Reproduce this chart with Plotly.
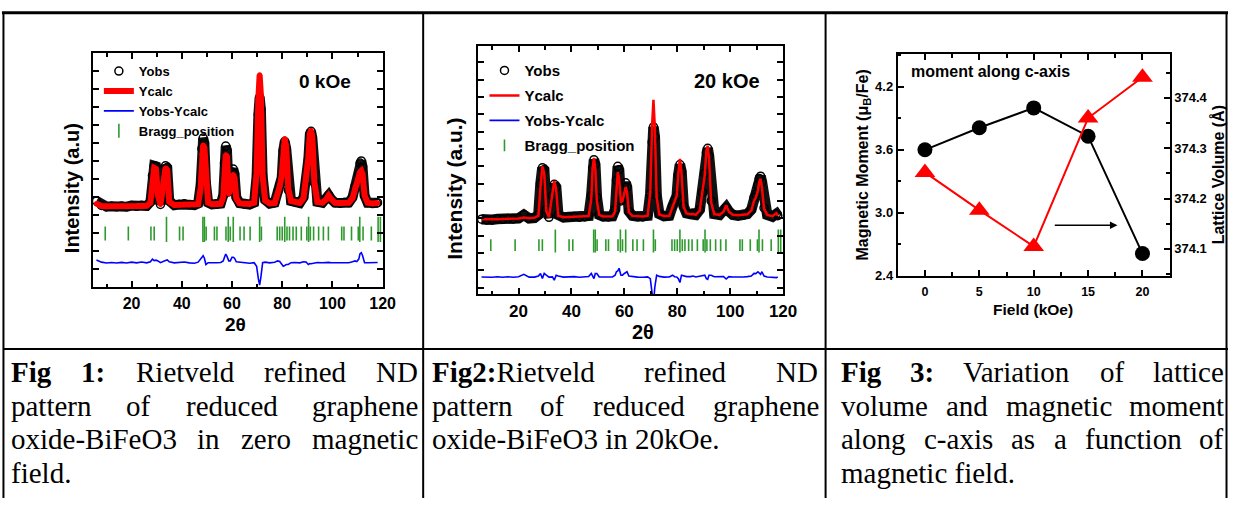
import plotly.graph_objects as go

W, H = 1242, 506
SANS = "Liberation Sans, Arial, sans-serif"
SERIF = "Liberation Serif, Times New Roman, serif"
GREEN = "#2e9a2e"

# ---------------- data ----------------
two_theta = [6, 8, 10, 12, 14, 16, 18, 20, 22, 24, 26, 27.5, 28.3, 29, 29.7, 30.5, 31.5,
             32.8, 33.5, 34.2, 35, 37, 39, 41, 43, 45, 46.5, 47.5, 48.0, 48.5, 49.0, 49.6,
             50.5, 52, 54, 55.5, 56.5, 57.0, 57.5, 58.0, 58.7, 59.3, 60.0, 60.5, 61.0, 61.7,
             63, 65, 67, 68.8, 69.8, 70.5, 71.0, 71.5, 72.2, 73.2, 75, 77, 78.2, 79.0, 79.8,
             80.4, 81.0, 81.6, 82.4, 83.5, 85, 86, 87, 88.5, 89.5, 90.4, 91.0, 91.5, 92.0,
             92.8, 94, 96, 97.5, 98.5, 99.5, 101, 103, 105, 106.5, 108, 109.0, 109.7, 110.5,
             111.0, 111.5, 112.0, 112.8, 114, 116, 117.5, 118]

yobs_0k = [4800, 4550, 4480, 4500, 4470, 4520, 4480, 4540, 4500, 4560, 4520, 4750, 6200, 6750,
           6720, 5200, 4600, 6100, 6750, 6650, 4800, 4560, 4600, 4640, 4580, 4560, 4650, 5700,
           7700, 8290, 8000, 5800, 4700, 4600, 4620, 4650, 5100, 6900, 7840, 7600, 5300, 5500,
           6400, 6570, 6300, 5000, 4680, 4620, 4600, 4700, 6200, 9600, 10560, 9900, 6200, 4850,
           4650, 4700, 5300, 5670, 6100, 7600, 8100, 7700, 5400, 4800, 4750, 4720, 4680, 5000,
           5940, 7100, 8500, 8660, 8300, 5800, 4750, 4700, 4900, 5120, 4900, 4700, 4680, 4720,
           4700, 5000, 5600, 5760, 6300, 6900, 7020, 6700, 5100, 4700, 4650, 4680, 4700]

ycalc_0k = [4650, 4520, 4500, 4490, 4490, 4500, 4500, 4510, 4510, 4520, 4530, 4700, 6000, 6630,
            6580, 5100, 4600, 6000, 6630, 6500, 4750, 4570, 4580, 4600, 4590, 4590, 4620, 5500,
            7400, 7900, 7750, 5900, 4700, 4610, 4620, 4640, 5000, 6600, 7360, 7250, 5200, 5400,
            6100, 6270, 6050, 4950, 4660, 4630, 4630, 4700, 6400, 10500, 11800, 10700, 6200, 4820,
            4660, 4680, 5200, 5600, 6200, 7800, 8260, 7800, 5500, 4800, 4740, 4700, 4690, 4950,
            5900, 7200, 8550, 8720, 8350, 5850, 4740, 4700, 4880, 5100, 4900, 4700, 4690, 4700,
            4700, 4950, 5500, 5700, 6100, 6400, 6470, 6300, 5100, 4700, 4660, 4680, 4690]

yobs_20k = [3950, 3900, 3920, 3960, 3940, 3980, 3960, 4000, 4200, 4000, 4020, 4200, 6000, 6910,
            6800, 4500, 4060, 5300, 5960, 5800, 4200, 4050, 4080, 4100, 4060, 4080, 4150, 5300,
            6900, 7380, 7100, 5200, 4200, 4100, 4080, 4120, 4500, 6200, 7000, 6800, 5000, 5100,
            5800, 6050, 5800, 4400, 4150, 4100, 4080, 4150, 5400, 8400, 9270, 8700, 5300, 4250,
            4120, 4150, 4700, 5010, 5300, 6500, 7100, 6700, 4700, 4300, 4250, 4300, 4200, 4500,
            5490, 6600, 7800, 8040, 7600, 5000, 4250, 4200, 4400, 4630, 4400, 4200, 4150, 4180,
            4250, 4500, 5200, 5390, 5900, 6300, 6430, 6100, 4600, 4200, 4100, 4260, 4150]

ycalc_20k = [3950, 3930, 3940, 3950, 3960, 3970, 3980, 3990, 4050, 4010, 4030, 4150, 5800, 7000,
             6600, 4400, 4070, 5300, 6150, 5700, 4150, 4060, 4070, 4080, 4080, 4090, 4130, 5100,
             6900, 7480, 6900, 5000, 4200, 4100, 4100, 4120, 4400, 5900, 6660, 6300, 4900, 5000,
             5600, 5810, 5500, 4350, 4140, 4110, 4100, 4150, 5500, 9400, 10830, 9300, 5200, 4220,
             4130, 4150, 4600, 5000, 5300, 6600, 7420, 6600, 4650, 4280, 4230, 4250, 4200, 4450,
             5450, 6500, 7900, 8180, 7500, 4900, 4240, 4200, 4380, 4750, 4380, 4200, 4170, 4180,
             4230, 4450, 5000, 5200, 5600, 6100, 6280, 5800, 4550, 4200, 4120, 4300, 4150]

# reflection positions (2theta), weak and strong families
bragg_weak = [9.5, 18.7, 27.7, 29.0, 39.1, 40.5, 49.7, 53.0, 54.0, 57.6, 59.3, 63.2, 64.8,
              67.2, 71.7, 78.0, 79.0, 80.0, 81.9, 82.9, 84.3, 85.6, 87.6, 89.8, 91.2, 92.5,
              94.5, 96.4, 98.4, 103.7, 104.6, 107.6, 110.3, 112.2, 115.5]
bragg_strong = [33.9, 48.4, 49.0, 58.5, 60.5, 71.0, 81.0, 90.5, 110.9, 118.2, 119.1]

field_koe = [0, 5, 10, 15, 20]
moment_c = [3.60, 3.81, 4.00, 3.73, 2.61]
lattice_volume = [374.252, 374.177, 374.105, 374.360, 374.441]

# ---------------- helpers ----------------
def px(x):
    return x / W


def py(y):
    return 1 - y / H


def bold(size, family=SANS):
    return dict(family=family, size=size, color="black", weight="bold")


def frame_axis(**kw):
    ax = dict(showline=True, linewidth=2, linecolor="black", mirror="ticks",
              ticks="inside", ticklen=6, tickwidth=1.5, tickcolor="black",
              showgrid=False, zeroline=False)
    ax.update(kw)
    return ax


def minor(dtick, length=3.5):
    return dict(ticks="inside", ticklen=length, tickwidth=1.5, tickcolor="black",
                dtick=dtick, showgrid=False)


fig = go.Figure()


def pattern(xa, ya, leg, yobs, ycalc, diff_base, weak_lvl, strong_lvl,
            weak_size, strong_size, obs_w, calc_w, calc_markers, tag):
    fig.add_trace(go.Scatter(x=two_theta, y=yobs, mode="lines",
                             line=dict(color="#111111", width=obs_w),
                             showlegend=False, legend=leg, legendgroup=tag + "o",
                             xaxis=xa, yaxis=ya, hoverinfo="skip"))
    fig.add_trace(go.Scatter(x=two_theta, y=yobs, mode="markers", name="Yobs",
                             marker=dict(symbol="circle-open", size=8, color="black",
                                         line=dict(width=1.5, color="black")),
                             legend=leg, legendgroup=tag + "o", xaxis=xa, yaxis=ya))
    fig.add_trace(go.Scatter(x=two_theta, y=ycalc,
                             mode="lines+markers" if calc_markers else "lines",
                             name="Ycalc", line=dict(color="#ff0000", width=calc_w),
                             marker=dict(size=5, color="#ff0000"),
                             legend=leg, legendgroup=tag + "c", xaxis=xa, yaxis=ya))
    diff = [o - c + diff_base for o, c in zip(yobs, ycalc)]
    fig.add_trace(go.Scatter(x=two_theta, y=diff, mode="lines", name="Yobs-Ycalc",
                             line=dict(color="#0000ff", width=1.6),
                             legend=leg, legendgroup=tag + "d", xaxis=xa, yaxis=ya))
    fig.add_trace(go.Scatter(x=bragg_weak, y=[weak_lvl] * len(bragg_weak), mode="markers",
                             name="Bragg_position",
                             marker=dict(symbol="line-ns", size=weak_size, color=GREEN,
                                         line=dict(width=1.6, color=GREEN)),
                             legend=leg, legendgroup=tag + "b", xaxis=xa, yaxis=ya))
    fig.add_trace(go.Scatter(x=bragg_strong, y=[strong_lvl] * len(bragg_strong),
                             mode="markers", showlegend=False,
                             marker=dict(symbol="line-ns", size=strong_size, color=GREEN,
                                         line=dict(width=1.6, color=GREEN)),
                             legend=leg, legendgroup=tag + "b", xaxis=xa, yaxis=ya))


# panel 1: 0 kOe
pattern("x", "y", "legend", yobs_0k, ycalc_0k, 1370, 2990, 3215, 10, 18, 10, 6, True, "p1")
# panel 2: 20 kOe
pattern("x2", "y2", "legend2", yobs_20k, ycalc_20k, 620, 2455, 2690, 8.5, 16.5, 10.5, 2.5, False, "p2")

# panel 3: moment and lattice volume vs field
fig.add_trace(go.Scatter(x=field_koe, y=moment_c, mode="lines+markers",
                         line=dict(color="black", width=2),
                         marker=dict(symbol="circle", size=15, color="black"),
                         showlegend=False, xaxis="x3", yaxis="y3"))
fig.add_trace(go.Scatter(x=field_koe, y=lattice_volume, mode="lines+markers",
                         line=dict(color="#ff0000", width=2),
                         marker=dict(symbol="triangle-up", size=18, color="#ff0000"),
                         showlegend=False, xaxis="x3", yaxis="y4"))

legend_common = dict(xanchor="left", yanchor="top", bgcolor="rgba(0,0,0,0)",
                     itemwidth=30, traceorder="grouped")

fig.update_layout(
    width=W, height=H, margin=dict(l=0, r=0, t=0, b=0),
    paper_bgcolor="white", plot_bgcolor="white", showlegend=True,
    legend=dict(x=px(100), y=py(57), font=bold(13), tracegroupgap=0, **legend_common),
    legend2=dict(x=px(490), y=py(55), font=bold(15), tracegroupgap=2.5, **legend_common),
    xaxis=frame_axis(domain=[px(94), px(387)], range=[4.6, 120], anchor="y",
                     tick0=0, dtick=20, minor=minor(10), tickfont=bold(16)),
    yaxis=frame_axis(domain=[py(292), py(54)], range=[0, 13000], anchor="x",
                     tick0=0, dtick=1000, showticklabels=False),
    xaxis2=frame_axis(domain=[px(483), px(792)], range=[4.5, 120], anchor="y2",
                      tick0=0, dtick=20, minor=minor(10), tickfont=bold(17)),
    yaxis2=frame_axis(domain=[py(299), py(47)], range=[-380, 13920], anchor="x2",
                      tick0=0, dtick=1000, showticklabels=False),
    xaxis3=frame_axis(domain=[px(908), px(1183)], range=[-2.5, 22.5], anchor="y3",
                      tick0=0, dtick=5, minor=minor(2.5), tickfont=bold(12.5),
                      ticklabelstandoff=3),
    yaxis3=frame_axis(domain=[py(280), py(55)], range=[2.4, 4.513], anchor="x3",
                      mirror=False, tick0=2.4, dtick=0.6, tickformat=".1f",
                      minor=minor(0.3), tickfont=bold(13)),
    yaxis4=frame_axis(domain=[py(280), py(55)], range=[374.047, 374.487], anchor="x3",
                      overlaying="y3", side="right", mirror=False, tick0=374.0,
                      dtick=0.1, tickformat=".1f", minor=minor(0.05),
                      tickfont=bold(13)),
)

ann = []


def label(x, y, text, size, angle=0, xanchor="center", family=SANS, weight="bold"):
    ann.append(dict(x=px(x), y=py(y), xref="paper", yref="paper", text=text,
                    showarrow=False, textangle=angle, xanchor=xanchor, yanchor="middle",
                    font=dict(family=family, size=size, color="black", weight=weight)))


# axis titles and panel labels
label(73, 191, "Intensity (a.u)", 20, angle=-90)
label(238, 330, "2θ", 19)
label(329, 83, "0 kOe", 19)
label(460, 192, "Intensity (a.u.)", 21, angle=-90)
label(650, 337, "2θ", 20)
label(735, 82, "20 kOe", 20)
label(873, 168, "Magnetic Moment (μ<sub>B</sub>/Fe)", 16, angle=-90)
label(1232, 178, "Lattice Volume (Å)", 16, angle=-90)
label(1045, 314, "Field (kOe)", 15.5)
label(919, 73, "moment along c-axis", 16, xanchor="left")

# arrow pointing from the volume curve towards its right-hand axis
ann.append(dict(x=17.7, y=2.88, xref="x3", yref="y3", ax=11.8, ay=2.88,
                axref="x3", ayref="y3", text="", showarrow=True, arrowhead=2,
                arrowsize=1, arrowwidth=1.5, arrowcolor="black"))

# ---------------- captions (justified Times text) ----------------
TIMES = dict(zip("abcdefghijklmnopqrstuvwxyz",
                 [444, 500, 444, 500, 444, 333, 500, 500, 278, 278, 500, 278, 778, 500, 500,
                  500, 500, 333, 389, 278, 500, 500, 722, 500, 500, 444]))
TIMES.update({"B": 667, "D": 722, "F": 556, "N": 722, "O": 722, "R": 667, "V": 722,
              ":": 278, ".": 250, "-": 333, " ": 250})
TIMES.update({d: 500 for d in "0123456789"})
TIMES_BOLD = {"F": 611, "i": 278, "g": 500, ":": 333, "1": 500, "2": 500, "3": 500}

CAP_SIZE = 29


def seg_width(text, is_bold):
    table = TIMES_BOLD if is_bold else TIMES
    return sum(table.get(ch, 500) for ch in text) * CAP_SIZE / 1000.0


def caption_line(left, right, y, words, justify):
    if not justify:
        text = "".join(f"<b>{t}</b>" if b else t for t, b in words[0])
        ann.append(dict(x=px(left), y=py(y), xref="paper", yref="paper", text=text,
                        showarrow=False, xanchor="left", yanchor="middle", borderpad=0,
                        font=dict(family=SERIF, size=CAP_SIZE, color="black")))
        return
    widths = [sum(seg_width(t, b) for t, b in w) for w in words]
    gap = (right - left - sum(widths)) / (len(words) - 1)
    x = left
    for w, wd in zip(words, widths):
        text = "".join(f"<b>{t}</b>" if b else t for t, b in w)
        ann.append(dict(x=px(x), y=py(y), xref="paper", yref="paper", text=text,
                        showarrow=False, xanchor="left", yanchor="middle", borderpad=0,
                        font=dict(family=SERIF, size=CAP_SIZE, color="black")))
        x += wd + gap


def words(s):
    return [[(w, False)] for w in s.split(" ")]


ROWS = [378, 412.5, 446.5, 480.5]
c1 = (10, 421)
c2 = (436, 826)
c3 = (850, 1236)

caption_line(*c1, ROWS[0], [[("Fig", True)], [("1:", True)]] + words("Rietveld refined ND"), True)
caption_line(*c1, ROWS[1], words("pattern of reduced graphene"), True)
caption_line(*c1, ROWS[2], words("oxide-BiFeO3 in zero magnetic"), True)
caption_line(*c1, ROWS[3], [[("field.", False)]], False)

caption_line(*c2, ROWS[0], [[("Fig2:", True), ("Rietveld", False)]] + words("refined ND"), True)
caption_line(*c2, ROWS[1], words("pattern of reduced graphene"), True)
caption_line(*c2, ROWS[2], [[("oxide-BiFeO3 in 20kOe.", False)]], False)

caption_line(*c3, ROWS[0], [[("Fig", True)], [("3:", True)]] + words("Variation of lattice"), True)
caption_line(*c3, ROWS[1], words("volume and magnetic moment"), True)
caption_line(*c3, ROWS[2], words("along c-axis as a function of"), True)
caption_line(*c3, ROWS[3], [[("magnetic field.", False)]], False)

# ---------------- table rules ----------------
shapes = []


def rule(x0, y0, x1, y1, w=2):
    shapes.append(dict(type="line", xref="paper", yref="paper",
                       x0=px(x0), y0=py(y0), x1=px(x1), y1=py(y1),
                       line=dict(color="black", width=w), layer="above"))


rule(2, 13, 1242, 13, 3)
rule(3.5, 13, 3.5, 506)
rule(428, 13, 428, 506)
rule(835, 13, 835, 506)
rule(1240.5, 13, 1240.5, 506)
rule(3, 354.5, 1242, 354.5)

fig.update_layout(annotations=ann, shapes=shapes)
fig.write_html("out.html")
